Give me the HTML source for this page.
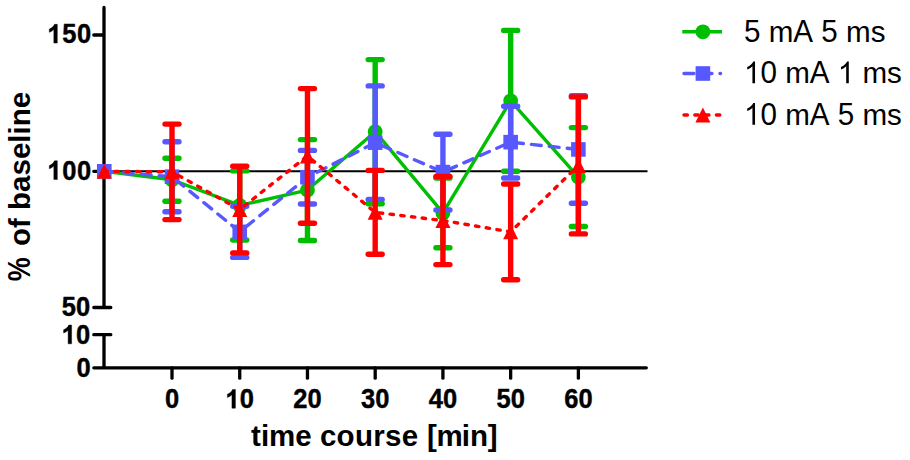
<!DOCTYPE html>
<html><head><meta charset="utf-8"><style>html,body{margin:0;padding:0;background:#fff;width:910px;height:460px;overflow:hidden}</style></head>
<body>
<svg width="910" height="460" viewBox="0 0 910 460" style="display:block;font-kerning:none">
<rect width="910" height="460" fill="#fff"/>
<g stroke="#000" stroke-width="3.3" fill="none" stroke-linecap="round">
<path d="M104,7.5 V307.5 M93.8,35 H104 M93.8,171.3 H104 M93.8,307.5 H110.8 M93.8,334.7 H110.8 M104,334.7 V367.8 M93.8,367.8 H646.3"/>
<line x1="172.00" y1="367.8" x2="172.00" y2="378.2"/>
<line x1="239.73" y1="367.8" x2="239.73" y2="378.2"/>
<line x1="307.46" y1="367.8" x2="307.46" y2="378.2"/>
<line x1="375.19" y1="367.8" x2="375.19" y2="378.2"/>
<line x1="442.92" y1="367.8" x2="442.92" y2="378.2"/>
<line x1="510.65" y1="367.8" x2="510.65" y2="378.2"/>
<line x1="578.38" y1="367.8" x2="578.38" y2="378.2"/>
</g>
<line x1="104" y1="171.3" x2="647.5" y2="171.3" stroke="#000" stroke-width="2.1"/>
<line x1="172.00" y1="158.2" x2="172.00" y2="201.3" stroke="#00BE00" stroke-width="5.4"/>
<line x1="165.00" y1="158.2" x2="179.00" y2="158.2" stroke="#00BE00" stroke-width="5.4" stroke-linecap="round"/>
<line x1="165.00" y1="201.3" x2="179.00" y2="201.3" stroke="#00BE00" stroke-width="5.4" stroke-linecap="round"/>
<line x1="239.73" y1="170.9" x2="239.73" y2="240" stroke="#00BE00" stroke-width="5.4"/>
<line x1="232.73" y1="170.9" x2="246.73" y2="170.9" stroke="#00BE00" stroke-width="5.4" stroke-linecap="round"/>
<line x1="232.73" y1="240" x2="246.73" y2="240" stroke="#00BE00" stroke-width="5.4" stroke-linecap="round"/>
<line x1="307.46" y1="139.6" x2="307.46" y2="240.5" stroke="#00BE00" stroke-width="5.4"/>
<line x1="300.46" y1="139.6" x2="314.46" y2="139.6" stroke="#00BE00" stroke-width="5.4" stroke-linecap="round"/>
<line x1="300.46" y1="240.5" x2="314.46" y2="240.5" stroke="#00BE00" stroke-width="5.4" stroke-linecap="round"/>
<line x1="375.19" y1="59.6" x2="375.19" y2="203.8" stroke="#00BE00" stroke-width="5.4"/>
<line x1="368.19" y1="59.6" x2="382.19" y2="59.6" stroke="#00BE00" stroke-width="5.4" stroke-linecap="round"/>
<line x1="368.19" y1="203.8" x2="382.19" y2="203.8" stroke="#00BE00" stroke-width="5.4" stroke-linecap="round"/>
<line x1="442.92" y1="178" x2="442.92" y2="247.8" stroke="#00BE00" stroke-width="5.4"/>
<line x1="435.92" y1="178" x2="449.92" y2="178" stroke="#00BE00" stroke-width="5.4" stroke-linecap="round"/>
<line x1="435.92" y1="247.8" x2="449.92" y2="247.8" stroke="#00BE00" stroke-width="5.4" stroke-linecap="round"/>
<line x1="510.65" y1="30.4" x2="510.65" y2="171.3" stroke="#00BE00" stroke-width="5.4"/>
<line x1="503.65" y1="30.4" x2="517.65" y2="30.4" stroke="#00BE00" stroke-width="5.4" stroke-linecap="round"/>
<line x1="503.65" y1="171.3" x2="517.65" y2="171.3" stroke="#00BE00" stroke-width="5.4" stroke-linecap="round"/>
<line x1="578.38" y1="127.6" x2="578.38" y2="226.5" stroke="#00BE00" stroke-width="5.4"/>
<line x1="571.38" y1="127.6" x2="585.38" y2="127.6" stroke="#00BE00" stroke-width="5.4" stroke-linecap="round"/>
<line x1="571.38" y1="226.5" x2="585.38" y2="226.5" stroke="#00BE00" stroke-width="5.4" stroke-linecap="round"/>
<polyline points="104.27,171.30 172.00,179.75 239.73,205.45 307.46,190.05 375.19,131.70 442.92,212.90 510.65,100.85 578.38,177.05" fill="none" stroke="#00BE00" stroke-width="3.4" stroke-linejoin="round"/>
<circle cx="104.27" cy="171.30" r="7.4" fill="#00BE00"/>
<circle cx="172.00" cy="179.75" r="7.4" fill="#00BE00"/>
<circle cx="239.73" cy="205.45" r="7.4" fill="#00BE00"/>
<circle cx="307.46" cy="190.05" r="7.4" fill="#00BE00"/>
<circle cx="375.19" cy="131.70" r="7.4" fill="#00BE00"/>
<circle cx="442.92" cy="212.90" r="7.4" fill="#00BE00"/>
<circle cx="510.65" cy="100.85" r="7.4" fill="#00BE00"/>
<circle cx="578.38" cy="177.05" r="7.4" fill="#00BE00"/>
<line x1="172.00" y1="141.7" x2="172.00" y2="211.7" stroke="#5858FF" stroke-width="5.4"/>
<line x1="165.00" y1="141.7" x2="179.00" y2="141.7" stroke="#5858FF" stroke-width="5.4" stroke-linecap="round"/>
<line x1="165.00" y1="211.7" x2="179.00" y2="211.7" stroke="#5858FF" stroke-width="5.4" stroke-linecap="round"/>
<line x1="239.73" y1="206.3" x2="239.73" y2="257.4" stroke="#5858FF" stroke-width="5.4"/>
<line x1="232.73" y1="206.3" x2="246.73" y2="206.3" stroke="#5858FF" stroke-width="5.4" stroke-linecap="round"/>
<line x1="232.73" y1="257.4" x2="246.73" y2="257.4" stroke="#5858FF" stroke-width="5.4" stroke-linecap="round"/>
<line x1="307.46" y1="150.4" x2="307.46" y2="204" stroke="#5858FF" stroke-width="5.4"/>
<line x1="300.46" y1="150.4" x2="314.46" y2="150.4" stroke="#5858FF" stroke-width="5.4" stroke-linecap="round"/>
<line x1="300.46" y1="204" x2="314.46" y2="204" stroke="#5858FF" stroke-width="5.4" stroke-linecap="round"/>
<line x1="375.19" y1="85.9" x2="375.19" y2="199.4" stroke="#5858FF" stroke-width="5.4"/>
<line x1="368.19" y1="85.9" x2="382.19" y2="85.9" stroke="#5858FF" stroke-width="5.4" stroke-linecap="round"/>
<line x1="368.19" y1="199.4" x2="382.19" y2="199.4" stroke="#5858FF" stroke-width="5.4" stroke-linecap="round"/>
<line x1="442.92" y1="134.3" x2="442.92" y2="209.9" stroke="#5858FF" stroke-width="5.4"/>
<line x1="435.92" y1="134.3" x2="449.92" y2="134.3" stroke="#5858FF" stroke-width="5.4" stroke-linecap="round"/>
<line x1="435.92" y1="209.9" x2="449.92" y2="209.9" stroke="#5858FF" stroke-width="5.4" stroke-linecap="round"/>
<line x1="510.65" y1="106.3" x2="510.65" y2="178" stroke="#5858FF" stroke-width="5.4"/>
<line x1="503.65" y1="106.3" x2="517.65" y2="106.3" stroke="#5858FF" stroke-width="5.4" stroke-linecap="round"/>
<line x1="503.65" y1="178" x2="517.65" y2="178" stroke="#5858FF" stroke-width="5.4" stroke-linecap="round"/>
<line x1="578.38" y1="95.7" x2="578.38" y2="203.2" stroke="#5858FF" stroke-width="5.4"/>
<line x1="571.38" y1="95.7" x2="585.38" y2="95.7" stroke="#5858FF" stroke-width="5.4" stroke-linecap="round"/>
<line x1="571.38" y1="203.2" x2="585.38" y2="203.2" stroke="#5858FF" stroke-width="5.4" stroke-linecap="round"/>
<polyline points="104.27,171.30 172.00,176.70 239.73,231.85 307.46,177.20 375.19,142.65 442.92,172.10 510.65,142.15 578.38,149.45" fill="none" stroke="#5858FF" stroke-width="3.4" stroke-linejoin="round" stroke-dasharray="9.9 8.1" stroke-dashoffset="-1.1" stroke-linecap="round"/>
<rect x="96.97" y="164.00" width="14.60" height="14.60" fill="#5858FF"/>
<rect x="164.70" y="169.40" width="14.60" height="14.60" fill="#5858FF"/>
<rect x="232.43" y="224.55" width="14.60" height="14.60" fill="#5858FF"/>
<rect x="300.16" y="169.90" width="14.60" height="14.60" fill="#5858FF"/>
<rect x="367.89" y="135.35" width="14.60" height="14.60" fill="#5858FF"/>
<rect x="435.62" y="164.80" width="14.60" height="14.60" fill="#5858FF"/>
<rect x="503.35" y="134.85" width="14.60" height="14.60" fill="#5858FF"/>
<rect x="571.08" y="142.15" width="14.60" height="14.60" fill="#5858FF"/>
<line x1="172.00" y1="124.1" x2="172.00" y2="219.6" stroke="#FF0000" stroke-width="5.4"/>
<line x1="165.00" y1="124.1" x2="179.00" y2="124.1" stroke="#FF0000" stroke-width="5.4" stroke-linecap="round"/>
<line x1="165.00" y1="219.6" x2="179.00" y2="219.6" stroke="#FF0000" stroke-width="5.4" stroke-linecap="round"/>
<line x1="239.73" y1="166.2" x2="239.73" y2="252.9" stroke="#FF0000" stroke-width="5.4"/>
<line x1="232.73" y1="166.2" x2="246.73" y2="166.2" stroke="#FF0000" stroke-width="5.4" stroke-linecap="round"/>
<line x1="232.73" y1="252.9" x2="246.73" y2="252.9" stroke="#FF0000" stroke-width="5.4" stroke-linecap="round"/>
<line x1="307.46" y1="88.6" x2="307.46" y2="223.3" stroke="#FF0000" stroke-width="5.4"/>
<line x1="300.46" y1="88.6" x2="314.46" y2="88.6" stroke="#FF0000" stroke-width="5.4" stroke-linecap="round"/>
<line x1="300.46" y1="223.3" x2="314.46" y2="223.3" stroke="#FF0000" stroke-width="5.4" stroke-linecap="round"/>
<line x1="375.19" y1="170.4" x2="375.19" y2="254.3" stroke="#FF0000" stroke-width="5.4"/>
<line x1="368.19" y1="170.4" x2="382.19" y2="170.4" stroke="#FF0000" stroke-width="5.4" stroke-linecap="round"/>
<line x1="368.19" y1="254.3" x2="382.19" y2="254.3" stroke="#FF0000" stroke-width="5.4" stroke-linecap="round"/>
<line x1="442.92" y1="176.5" x2="442.92" y2="264.6" stroke="#FF0000" stroke-width="5.4"/>
<line x1="435.92" y1="176.5" x2="449.92" y2="176.5" stroke="#FF0000" stroke-width="5.4" stroke-linecap="round"/>
<line x1="435.92" y1="264.6" x2="449.92" y2="264.6" stroke="#FF0000" stroke-width="5.4" stroke-linecap="round"/>
<line x1="510.65" y1="184" x2="510.65" y2="279.7" stroke="#FF0000" stroke-width="5.4"/>
<line x1="503.65" y1="184" x2="517.65" y2="184" stroke="#FF0000" stroke-width="5.4" stroke-linecap="round"/>
<line x1="503.65" y1="279.7" x2="517.65" y2="279.7" stroke="#FF0000" stroke-width="5.4" stroke-linecap="round"/>
<line x1="578.38" y1="96.9" x2="578.38" y2="233.9" stroke="#FF0000" stroke-width="5.4"/>
<line x1="571.38" y1="96.9" x2="585.38" y2="96.9" stroke="#FF0000" stroke-width="5.4" stroke-linecap="round"/>
<line x1="571.38" y1="233.9" x2="585.38" y2="233.9" stroke="#FF0000" stroke-width="5.4" stroke-linecap="round"/>
<polyline points="104.27,171.30 172.00,171.85 239.73,209.55 307.46,155.95 375.19,212.35 442.92,220.55 510.65,231.85 578.38,165.40" fill="none" stroke="#FF0000" stroke-width="3.4" stroke-linejoin="round" stroke-dasharray="3.4 7.4" stroke-dashoffset="0.1" stroke-linecap="round"/>
<polygon points="104.27,163.80 111.77,178.80 96.77,178.80" fill="#FF0000"/>
<polygon points="172.00,164.35 179.50,179.35 164.50,179.35" fill="#FF0000"/>
<polygon points="239.73,202.05 247.23,217.05 232.23,217.05" fill="#FF0000"/>
<polygon points="307.46,148.45 314.96,163.45 299.96,163.45" fill="#FF0000"/>
<polygon points="375.19,204.85 382.69,219.85 367.69,219.85" fill="#FF0000"/>
<polygon points="442.92,213.05 450.42,228.05 435.42,228.05" fill="#FF0000"/>
<polygon points="510.65,224.35 518.15,239.35 503.15,239.35" fill="#FF0000"/>
<polygon points="578.38,157.90 585.88,172.90 570.88,172.90" fill="#FF0000"/>
<g transform="translate(90.00,43.10)" stroke="#000" stroke-width="0.4" stroke-linejoin="round">
<path transform="translate(-42.55,0) scale(0.01245,-0.01275)" d="M793,0L512,0L512,1059Q440,990 358,945Q270,895 149,846L149,1101Q259,1137 388,1237Q517,1338 565,1472L793,1472Z" vector-effect="non-scaling-stroke"/>
<text transform="translate(-27.76,0) scale(1,1.07)" font-family="Liberation Sans, sans-serif" font-weight="bold" font-size="25.5">5</text>
<text transform="translate(-13.08,0) scale(1,1.07)" font-family="Liberation Sans, sans-serif" font-weight="bold" font-size="25.5">0</text>
</g>
<g transform="translate(90.00,179.55)" stroke="#000" stroke-width="0.4" stroke-linejoin="round">
<path transform="translate(-42.55,0) scale(0.01245,-0.01275)" d="M793,0L512,0L512,1059Q440,990 358,945Q270,895 149,846L149,1101Q259,1137 388,1237Q517,1338 565,1472L793,1472Z" vector-effect="non-scaling-stroke"/>
<text transform="translate(-27.86,0) scale(1,1.07)" font-family="Liberation Sans, sans-serif" font-weight="bold" font-size="25.5">0</text>
<text transform="translate(-13.08,0) scale(1,1.07)" font-family="Liberation Sans, sans-serif" font-weight="bold" font-size="25.5">0</text>
</g>
<g transform="translate(90.00,316.20)" stroke="#000" stroke-width="0.4" stroke-linejoin="round">
<text transform="translate(-28.16,0) scale(1,1.07)" font-family="Liberation Sans, sans-serif" font-weight="bold" font-size="25.5">5</text>
<text transform="translate(-13.88,0) scale(1,1.07)" font-family="Liberation Sans, sans-serif" font-weight="bold" font-size="25.5">0</text>
</g>
<g transform="translate(90.00,343.80)" stroke="#000" stroke-width="0.4" stroke-linejoin="round">
<path transform="translate(-28.26,0) scale(0.01245,-0.01275)" d="M793,0L512,0L512,1059Q440,990 358,945Q270,895 149,846L149,1101Q259,1137 388,1237Q517,1338 565,1472L793,1472Z" vector-effect="non-scaling-stroke"/>
<text transform="translate(-13.88,0) scale(1,1.07)" font-family="Liberation Sans, sans-serif" font-weight="bold" font-size="25.5">0</text>
</g>
<g transform="translate(90.00,376.50)" stroke="#000" stroke-width="0.4" stroke-linejoin="round">
<text transform="translate(-13.58,0) scale(1,1.07)" font-family="Liberation Sans, sans-serif" font-weight="bold" font-size="25.5">0</text>
</g>
<g transform="translate(172.00,408.20)" stroke="#000" stroke-width="0.4" stroke-linejoin="round">
<text transform="translate(-7.09,0) scale(1,1.07)" font-family="Liberation Sans, sans-serif" font-weight="bold" font-size="25.5">0</text>
</g>
<g transform="translate(239.73,408.20)" stroke="#000" stroke-width="0.4" stroke-linejoin="round">
<path transform="translate(-14.18,0) scale(0.01245,-0.01275)" d="M793,0L512,0L512,1059Q440,990 358,945Q270,895 149,846L149,1101Q259,1137 388,1237Q517,1338 565,1472L793,1472Z" vector-effect="non-scaling-stroke"/>
<text transform="translate(0.00,0) scale(1,1.07)" font-family="Liberation Sans, sans-serif" font-weight="bold" font-size="25.5">0</text>
</g>
<g transform="translate(307.46,408.20)" stroke="#000" stroke-width="0.4" stroke-linejoin="round">
<text transform="translate(-14.18,0) scale(1,1.07)" font-family="Liberation Sans, sans-serif" font-weight="bold" font-size="25.5">2</text>
<text transform="translate(0.00,0) scale(1,1.07)" font-family="Liberation Sans, sans-serif" font-weight="bold" font-size="25.5">0</text>
</g>
<g transform="translate(375.19,408.20)" stroke="#000" stroke-width="0.4" stroke-linejoin="round">
<text transform="translate(-14.18,0) scale(1,1.07)" font-family="Liberation Sans, sans-serif" font-weight="bold" font-size="25.5">3</text>
<text transform="translate(0.00,0) scale(1,1.07)" font-family="Liberation Sans, sans-serif" font-weight="bold" font-size="25.5">0</text>
</g>
<g transform="translate(442.92,408.20)" stroke="#000" stroke-width="0.4" stroke-linejoin="round">
<text transform="translate(-14.18,0) scale(1,1.07)" font-family="Liberation Sans, sans-serif" font-weight="bold" font-size="25.5">4</text>
<text transform="translate(0.00,0) scale(1,1.07)" font-family="Liberation Sans, sans-serif" font-weight="bold" font-size="25.5">0</text>
</g>
<g transform="translate(510.65,408.20)" stroke="#000" stroke-width="0.4" stroke-linejoin="round">
<text transform="translate(-14.18,0) scale(1,1.07)" font-family="Liberation Sans, sans-serif" font-weight="bold" font-size="25.5">5</text>
<text transform="translate(0.00,0) scale(1,1.07)" font-family="Liberation Sans, sans-serif" font-weight="bold" font-size="25.5">0</text>
</g>
<g transform="translate(578.38,408.20)" stroke="#000" stroke-width="0.4" stroke-linejoin="round">
<text transform="translate(-14.18,0) scale(1,1.07)" font-family="Liberation Sans, sans-serif" font-weight="bold" font-size="25.5">6</text>
<text transform="translate(0.00,0) scale(1,1.07)" font-family="Liberation Sans, sans-serif" font-weight="bold" font-size="25.5">0</text>
</g>
<g transform="translate(374.00,445.60)">
<text transform="translate(-122.94,0) scale(1,1.0)" font-family="Liberation Sans, sans-serif" font-weight="bold" font-size="29.5">t</text>
<text transform="translate(-113.12,0) scale(1,1.0)" font-family="Liberation Sans, sans-serif" font-weight="bold" font-size="29.5">i</text>
<text transform="translate(-104.92,0) scale(1,0.99)" font-family="Liberation Sans, sans-serif" font-weight="bold" font-size="29.5">m</text>
<text transform="translate(-78.69,0) scale(1,0.99)" font-family="Liberation Sans, sans-serif" font-weight="bold" font-size="29.5">e</text>
<text transform="translate(-54.09,0) scale(1,0.99)" font-family="Liberation Sans, sans-serif" font-weight="bold" font-size="29.5">c</text>
<text transform="translate(-37.38,0) scale(1,0.99)" font-family="Liberation Sans, sans-serif" font-weight="bold" font-size="29.5">o</text>
<text transform="translate(-19.06,0) scale(1,0.99)" font-family="Liberation Sans, sans-serif" font-weight="bold" font-size="29.5">u</text>
<text transform="translate(-0.74,0) scale(1,0.99)" font-family="Liberation Sans, sans-serif" font-weight="bold" font-size="29.5">r</text>
<text transform="translate(11.04,0) scale(1,0.99)" font-family="Liberation Sans, sans-serif" font-weight="bold" font-size="29.5">s</text>
<text transform="translate(27.84,0) scale(1,0.99)" font-family="Liberation Sans, sans-serif" font-weight="bold" font-size="29.5">e</text>
<text transform="translate(52.95,0) scale(1,1.0)" font-family="Liberation Sans, sans-serif" font-weight="bold" font-size="29.5">[</text>
<text transform="translate(62.47,0) scale(1,0.99)" font-family="Liberation Sans, sans-serif" font-weight="bold" font-size="29.5">m</text>
<text transform="translate(87.80,0) scale(1,1.0)" font-family="Liberation Sans, sans-serif" font-weight="bold" font-size="29.5">i</text>
<text transform="translate(96.00,0) scale(1,0.99)" font-family="Liberation Sans, sans-serif" font-weight="bold" font-size="29.5">n</text>
<text transform="translate(113.72,0) scale(1,1.0)" font-family="Liberation Sans, sans-serif" font-weight="bold" font-size="29.5">]</text>
</g>
<g transform="translate(30.30,186.10) rotate(-90)">
<text transform="translate(-95.16,0) scale(0.915,1.07)" font-family="Liberation Sans, sans-serif" font-weight="bold" font-size="29.5">%</text>
<text transform="translate(-59.84,0) scale(1,0.99)" font-family="Liberation Sans, sans-serif" font-weight="bold" font-size="29.5">o</text>
<text transform="translate(-41.82,0) scale(1,1.0)" font-family="Liberation Sans, sans-serif" font-weight="bold" font-size="29.5">f</text>
<text transform="translate(-23.80,0) scale(1,1.0)" font-family="Liberation Sans, sans-serif" font-weight="bold" font-size="29.5">b</text>
<text transform="translate(-5.78,0) scale(1,0.99)" font-family="Liberation Sans, sans-serif" font-weight="bold" font-size="29.5">a</text>
<text transform="translate(10.63,0) scale(1,0.99)" font-family="Liberation Sans, sans-serif" font-weight="bold" font-size="29.5">s</text>
<text transform="translate(27.04,0) scale(1,0.99)" font-family="Liberation Sans, sans-serif" font-weight="bold" font-size="29.5">e</text>
<text transform="translate(43.44,0) scale(1,1.0)" font-family="Liberation Sans, sans-serif" font-weight="bold" font-size="29.5">l</text>
<text transform="translate(51.64,0) scale(1,1.0)" font-family="Liberation Sans, sans-serif" font-weight="bold" font-size="29.5">i</text>
<text transform="translate(59.84,0) scale(1,0.99)" font-family="Liberation Sans, sans-serif" font-weight="bold" font-size="29.5">n</text>
<text transform="translate(77.86,0) scale(1,0.99)" font-family="Liberation Sans, sans-serif" font-weight="bold" font-size="29.5">e</text>
</g>
<line x1="682.30" y1="31.8" x2="722.0" y2="31.8" stroke="#00BE00" stroke-width="3.4"/>
<circle cx="702.90" cy="31.80" r="7.4" fill="#00BE00"/>
<g transform="translate(744.00,41.60)">
<text transform="translate(0.00,0) scale(1,1.07)" font-family="Liberation Sans, sans-serif" font-size="29.6">5</text>
<text transform="translate(24.69,0) scale(1,0.99)" font-family="Liberation Sans, sans-serif" font-size="29.6">m</text>
<text transform="translate(49.34,0) scale(1,1.07)" font-family="Liberation Sans, sans-serif" font-size="29.6">A</text>
<text transform="translate(77.31,0) scale(1,1.07)" font-family="Liberation Sans, sans-serif" font-size="29.6">5</text>
<text transform="translate(102.00,0) scale(1,0.99)" font-family="Liberation Sans, sans-serif" font-size="29.6">m</text>
<text transform="translate(126.65,0) scale(1,0.99)" font-family="Liberation Sans, sans-serif" font-size="29.6">s</text>
</g>
<line x1="684.00" y1="73.5" x2="720.6" y2="73.5" stroke="#5858FF" stroke-width="3.4" stroke-dasharray="9.9 8.1" stroke-linecap="round"/>
<rect x="695.60" y="66.20" width="14.60" height="14.60" fill="#5858FF"/>
<g transform="translate(744.00,83.30)">
<path transform="translate(0.00,0) scale(0.01445,-0.01480)" d="M763,0L583,0L583,1147Q518,1085 412,1023Q306,961 222,930L222,1104Q373,1175 486,1276Q599,1377 646,1472L763,1472Z" vector-effect="non-scaling-stroke"/>
<text transform="translate(16.46,0) scale(1,1.07)" font-family="Liberation Sans, sans-serif" font-size="29.6">0</text>
<text transform="translate(41.15,0) scale(1,0.99)" font-family="Liberation Sans, sans-serif" font-size="29.6">m</text>
<text transform="translate(65.81,0) scale(1,1.07)" font-family="Liberation Sans, sans-serif" font-size="29.6">A</text>
<path transform="translate(93.77,0) scale(0.01445,-0.01480)" d="M763,0L583,0L583,1147Q518,1085 412,1023Q306,961 222,930L222,1104Q373,1175 486,1276Q599,1377 646,1472L763,1472Z" vector-effect="non-scaling-stroke"/>
<text transform="translate(118.46,0) scale(1,0.99)" font-family="Liberation Sans, sans-serif" font-size="29.6">m</text>
<text transform="translate(143.11,0) scale(1,0.99)" font-family="Liberation Sans, sans-serif" font-size="29.6">s</text>
</g>
<line x1="684.00" y1="115" x2="720.6" y2="115" stroke="#FF0000" stroke-width="3.4" stroke-dasharray="3.4 7.4" stroke-linecap="round"/>
<polygon points="702.90,107.50 710.40,122.50 695.40,122.50" fill="#FF0000"/>
<g transform="translate(744.00,124.80)">
<path transform="translate(0.00,0) scale(0.01445,-0.01480)" d="M763,0L583,0L583,1147Q518,1085 412,1023Q306,961 222,930L222,1104Q373,1175 486,1276Q599,1377 646,1472L763,1472Z" vector-effect="non-scaling-stroke"/>
<text transform="translate(16.46,0) scale(1,1.07)" font-family="Liberation Sans, sans-serif" font-size="29.6">0</text>
<text transform="translate(41.15,0) scale(1,0.99)" font-family="Liberation Sans, sans-serif" font-size="29.6">m</text>
<text transform="translate(65.81,0) scale(1,1.07)" font-family="Liberation Sans, sans-serif" font-size="29.6">A</text>
<text transform="translate(93.77,0) scale(1,1.07)" font-family="Liberation Sans, sans-serif" font-size="29.6">5</text>
<text transform="translate(118.46,0) scale(1,0.99)" font-family="Liberation Sans, sans-serif" font-size="29.6">m</text>
<text transform="translate(143.11,0) scale(1,0.99)" font-family="Liberation Sans, sans-serif" font-size="29.6">s</text>
</g>
</svg>
</body></html>
